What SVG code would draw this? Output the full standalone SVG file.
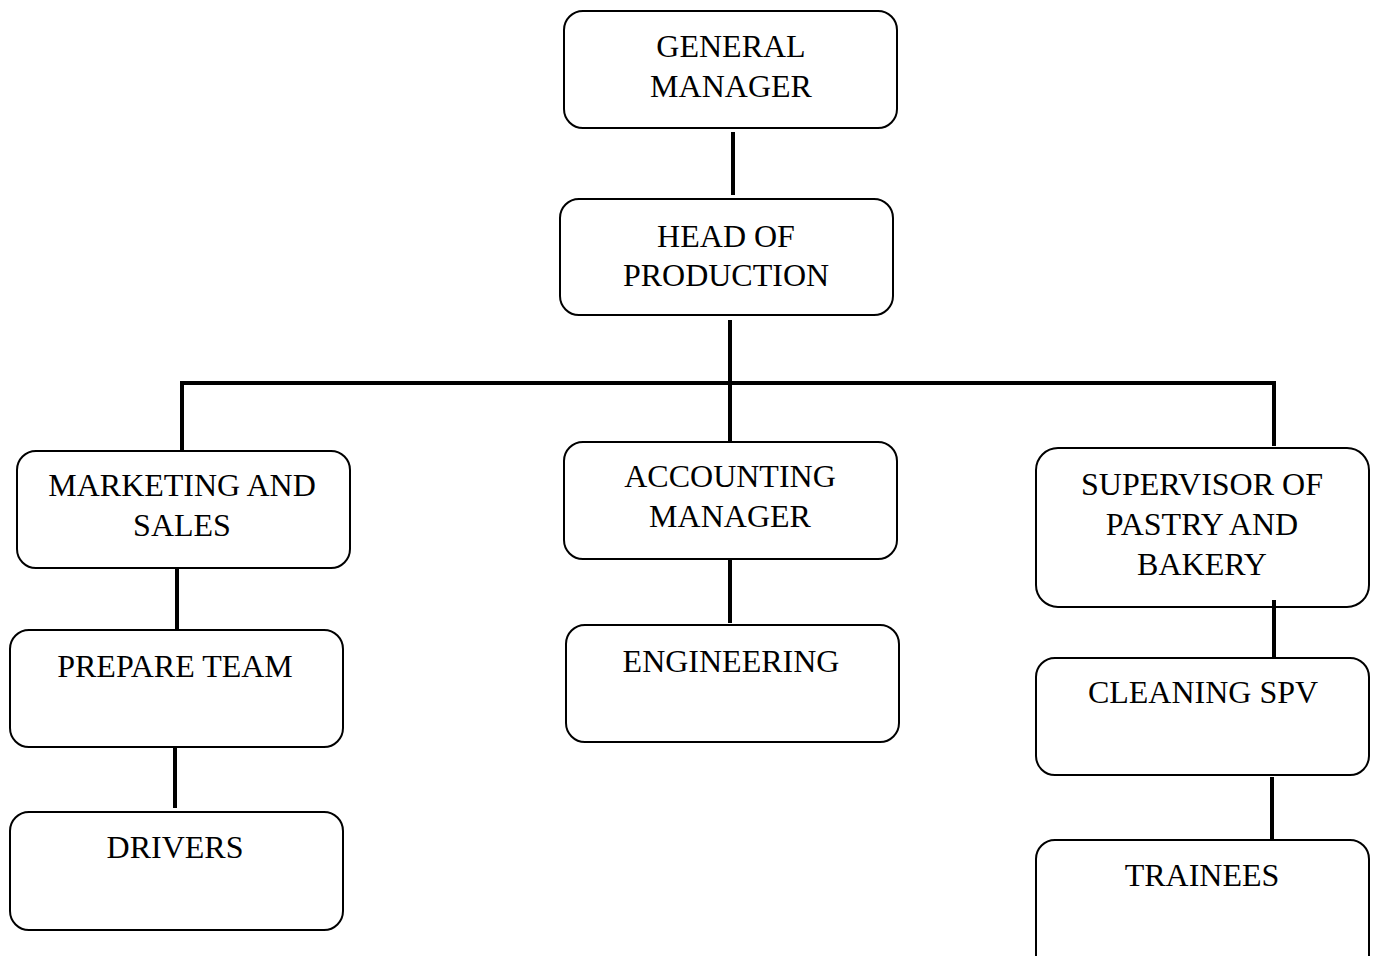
<svg xmlns="http://www.w3.org/2000/svg" width="1376" height="956" viewBox="0 0 1376 956">
<style>
.box{fill:#fff;stroke:#000;stroke-width:2}
.t{font-family:"Liberation Serif","Times New Roman",serif;font-size:32px;fill:#000;text-anchor:middle}
.c{stroke:#000;stroke-width:4;fill:none}
</style>
<rect width="1376" height="956" fill="#fff"/>
<g id="general-manager">
<rect class="box" x="564" y="11" width="333" height="117" rx="19"/>
<text class="t" x="731" y="57">GENERAL</text>
<text class="t" x="731" y="97">MANAGER</text>
</g>
<g id="head-of-production">
<rect class="box" x="560" y="199" width="333" height="116" rx="19"/>
<text class="t" x="726" y="247">HEAD OF</text>
<text class="t" x="726" y="286">PRODUCTION</text>
</g>
<g id="marketing-and-sales">
<rect class="box" x="17" y="451" width="333" height="117" rx="19"/>
<text class="t" x="182" y="496">MARKETING AND</text>
<text class="t" x="182" y="536">SALES</text>
</g>
<g id="accounting-manager">
<rect class="box" x="564" y="442" width="333" height="117" rx="19"/>
<text class="t" x="730" y="487">ACCOUNTING</text>
<text class="t" x="730" y="527">MANAGER</text>
</g>
<g id="supervisor">
<rect class="box" x="1036" y="448" width="333" height="159" rx="22"/>
<text class="t" x="1202" y="495">SUPERVISOR OF</text>
<text class="t" x="1202" y="535">PASTRY AND</text>
<text class="t" x="1202" y="575">BAKERY</text>
</g>
<g id="prepare-team">
<rect class="box" x="10" y="630" width="333" height="117" rx="19"/>
<text class="t" x="175" y="677">PREPARE TEAM</text>
</g>
<g id="engineering">
<rect class="box" x="566" y="625" width="333" height="117" rx="19"/>
<text class="t" x="731" y="672">ENGINEERING</text>
</g>
<g id="cleaning-spv">
<rect class="box" x="1036" y="658" width="333" height="117" rx="19"/>
<text class="t" x="1203" y="703">CLEANING SPV</text>
</g>
<g id="drivers">
<rect class="box" x="10" y="812" width="333" height="118" rx="19"/>
<text class="t" x="175" y="858">DRIVERS</text>
</g>
<g id="trainees">
<rect class="box" x="1036" y="840" width="333" height="140" rx="19"/>
<text class="t" x="1202" y="886">TRAINEES</text>
</g>
<g id="connectors">
<line class="c" x1="733" y1="132" x2="733" y2="195"/>
<line class="c" x1="730" y1="320" x2="730" y2="441"/>
<line class="c" x1="180" y1="383" x2="1276" y2="383"/>
<line class="c" x1="182" y1="385" x2="182" y2="450"/>
<line class="c" x1="1274" y1="381" x2="1274" y2="446"/>
<line class="c" x1="177" y1="567" x2="177" y2="629"/>
<line class="c" x1="175" y1="747" x2="175" y2="808"/>
<line class="c" x1="730" y1="560" x2="730" y2="623"/>
<line class="c" x1="1274" y1="600" x2="1274" y2="657"/>
<line class="c" x1="1272" y1="777" x2="1272" y2="840"/>
</g>
</svg>
